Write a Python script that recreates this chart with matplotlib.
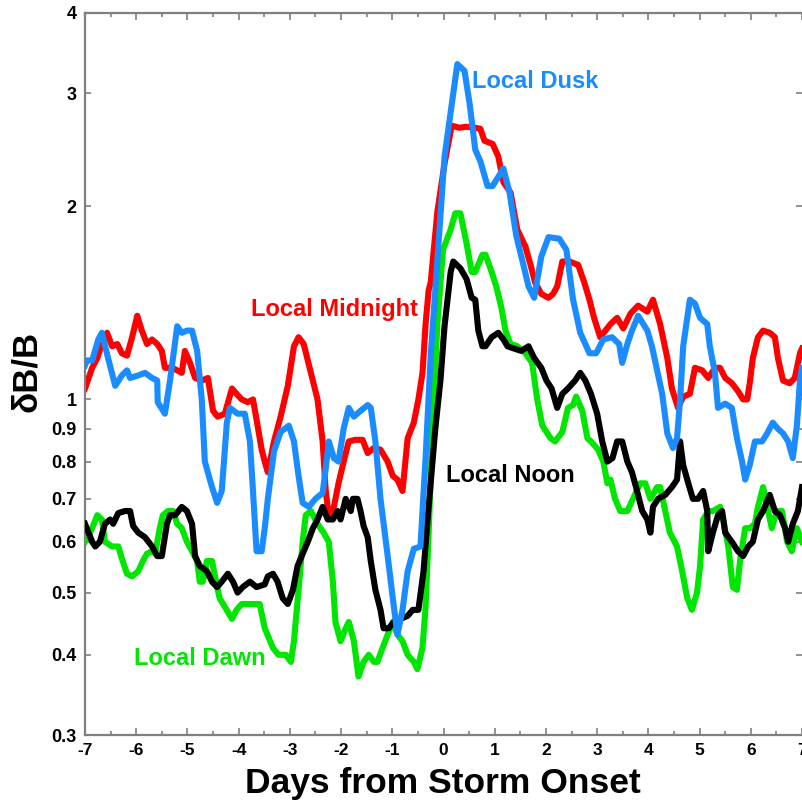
import matplotlib
matplotlib.use('Agg')
import matplotlib.pyplot as plt
from matplotlib.ticker import FixedLocator, FixedFormatter, NullLocator, MultipleLocator

plt.rcParams['font.family'] = ['Liberation Sans', 'DejaVu Sans']
plt.rcParams['font.weight'] = 'bold'

# ---------------- data ----------------
midnight_days = [-7.0, -6.86, -6.76, -6.67, -6.57, -6.47, -6.37, -6.28, -6.18, -6.08, -5.98, -5.89, -5.79,
                 -5.69, -5.59, -5.50, -5.44, -5.30, -5.20, -5.11, -5.05, -4.95, -4.85, -4.72, -4.60, -4.50,
                 -4.41, -4.27, -4.13, -4.04, -3.94, -3.82, -3.72, -3.65, -3.55, -3.49, -3.43, -3.31, -3.18,
                 -3.04, -2.92, -2.83, -2.73, -2.59, -2.46, -2.36, -2.30, -2.24, -2.14, -2.05, -1.95, -1.85,
                 -1.72, -1.58, -1.48, -1.36, -1.23, -1.09, -0.99, -0.90, -0.80, -0.70, -0.58, -0.49, -0.41,
                 -0.35, -0.29, -0.25, -0.12, 0.02, 0.16, 0.31, 0.45, 0.62, 0.72, 0.80, 0.96, 1.07, 1.17,
                 1.31, 1.44, 1.60, 1.70, 1.79, 1.91, 2.05, 2.14, 2.22, 2.32, 2.46, 2.63, 2.75, 2.85, 2.94,
                 3.06, 3.16, 3.26, 3.39, 3.51, 3.65, 3.80, 3.98, 4.09, 4.23, 4.37, 4.46, 4.58, 4.68, 4.81,
                 4.91, 5.05, 5.17, 5.30, 5.40, 5.50, 5.63, 5.75, 5.85, 5.93, 5.98, 6.04, 6.14, 6.24, 6.37,
                 6.47, 6.53, 6.63, 6.76, 6.86, 6.96, 7.0]
midnight_vals = [1.04, 1.12, 1.16, 1.22, 1.27, 1.21, 1.22, 1.18, 1.17, 1.25, 1.35, 1.28, 1.22,
                 1.24, 1.22, 1.19, 1.12, 1.12, 1.11, 1.10, 1.19, 1.14, 1.08, 1.07, 1.08, 0.96,
                 0.94, 0.95, 1.04, 1.02, 1.00, 0.99, 1.00, 0.93, 0.835, 0.80, 0.77, 0.86, 0.94,
                 1.05, 1.21, 1.25, 1.22, 1.10, 1.00, 0.86, 0.72, 0.66, 0.68, 0.74, 0.80, 0.86,
                 0.865, 0.865, 0.825, 0.84, 0.835, 0.80, 0.76, 0.75, 0.72, 0.87, 0.92, 1.00, 1.10,
                 1.31, 1.48, 1.52, 1.96, 2.33, 2.67, 2.65, 2.66, 2.65, 2.64, 2.53, 2.50, 2.39, 2.18,
                 2.10, 1.84, 1.73, 1.62, 1.52, 1.46, 1.44, 1.46, 1.50, 1.64, 1.64, 1.62, 1.52, 1.43, 1.34,
                 1.25, 1.28, 1.31, 1.34, 1.29, 1.36, 1.40, 1.37, 1.43, 1.31, 1.16, 1.04, 0.97, 1.01, 1.02,
                 1.12, 1.11, 1.08, 1.12, 1.12, 1.08, 1.06, 1.03, 1.00, 1.00, 1.06, 1.16, 1.25, 1.28, 1.27,
                 1.25, 1.16, 1.07, 1.06, 1.08, 1.18, 1.20]

dusk_days = [-7.0, -6.96, -6.86, -6.74, -6.67, -6.55, -6.41, -6.28, -6.18, -6.12, -5.96, -5.83, -5.69,
             -5.59, -5.58, -5.44, -5.34, -5.20, -5.11, -5.01, -4.91, -4.81, -4.72, -4.66, -4.52, -4.42,
             -4.33, -4.23, -4.17, -4.02, -3.88, -3.78, -3.72, -3.65, -3.55, -3.49, -3.43, -3.31, -3.18,
             -3.02, -2.92, -2.83, -2.75, -2.63, -2.50, -2.36, -2.30, -2.24, -2.14, -2.05, -1.95, -1.85,
             -1.75, -1.62, -1.48, -1.42, -1.33, -1.23, -1.09, -0.99, -0.90, -0.80, -0.70, -0.58, -0.45,
             -0.35, -0.25, -0.16, 0.02, 0.27, 0.41, 0.51, 0.62, 0.72, 0.86, 0.96, 1.17, 1.29, 1.42,
             1.56, 1.66, 1.77, 1.91, 2.05, 2.26, 2.40, 2.53, 2.67, 2.85, 2.98, 3.12, 3.29, 3.43, 3.49,
             3.59, 3.68, 3.80, 3.98, 4.07, 4.17, 4.27, 4.37, 4.48, 4.56, 4.62, 4.68, 4.81, 4.91, 5.01,
             5.15, 5.20, 5.30, 5.36, 5.50, 5.63, 5.73, 5.83, 5.89, 5.98, 6.08, 6.22, 6.32, 6.43, 6.53,
             6.63, 6.73, 6.82, 6.90, 6.96, 7.0]
dusk_vals = [1.13, 1.15, 1.15, 1.24, 1.27, 1.16, 1.05, 1.09, 1.11, 1.08, 1.09, 1.10, 1.08,
             1.07, 0.99, 0.95, 1.07, 1.30, 1.27, 1.28, 1.28, 1.19, 1.00, 0.80, 0.73, 0.69,
             0.72, 0.92, 0.97, 0.95, 0.95, 0.86, 0.72, 0.58, 0.58, 0.63, 0.70, 0.83, 0.89,
             0.91, 0.86, 0.76, 0.69, 0.68, 0.70, 0.715, 0.78, 0.86, 0.81, 0.80, 0.90, 0.97,
             0.94, 0.96, 0.98, 0.97, 0.86, 0.70, 0.57, 0.49, 0.43, 0.47, 0.54, 0.585, 0.59,
             0.81, 1.17, 1.48, 2.39, 3.33, 3.25, 2.89, 2.45, 2.35, 2.15, 2.15, 2.29, 2.10, 1.80,
             1.62, 1.50, 1.44, 1.67, 1.79, 1.78, 1.71, 1.43, 1.27, 1.18, 1.18, 1.24, 1.25, 1.22, 1.14,
             1.22, 1.28, 1.35, 1.28, 1.21, 1.11, 1.02, 0.885, 0.84, 0.87, 1.00, 1.21, 1.43, 1.41, 1.34,
             1.31, 1.21, 1.10, 0.97, 0.985, 0.97, 0.87, 0.80, 0.75, 0.79, 0.86, 0.86, 0.885, 0.92, 0.90,
             0.885, 0.86, 0.81, 0.91, 1.07, 1.12]

dawn_days = [-7.0, -6.86, -6.76, -6.67, -6.61, -6.47, -6.35, -6.28, -6.18, -6.08, -5.96, -5.87, -5.79,
             -5.69, -5.63, -5.54, -5.48, -5.38, -5.28, -5.20, -5.11, -5.01, -4.91, -4.81, -4.76, -4.70,
             -4.62, -4.52, -4.42, -4.37, -4.27, -4.13, -4.04, -3.94, -3.82, -3.68, -3.59, -3.49, -3.33,
             -3.22, -3.08, -2.98, -2.92, -2.83, -2.75, -2.69, -2.59, -2.46, -2.34, -2.24, -2.16, -2.11,
             -2.01, -1.91, -1.85, -1.75, -1.66, -1.56, -1.46, -1.36, -1.29, -1.19, -1.09, -0.99, -0.90,
             -0.80, -0.70, -0.58, -0.51, -0.41, -0.35, -0.29, -0.21, -0.12, -0.01, 0.14, 0.23, 0.33,
             0.45, 0.55, 0.62, 0.76, 0.82, 0.94, 1.03, 1.13, 1.21, 1.31, 1.44, 1.60, 1.73, 1.83, 1.93,
             2.09, 2.18, 2.32, 2.43, 2.53, 2.59, 2.71, 2.81, 2.88, 3.02, 3.12, 3.20, 3.26, 3.35, 3.45,
             3.59, 3.70, 3.84, 3.94, 4.04, 4.17, 4.23, 4.33, 4.42, 4.56, 4.66, 4.76, 4.85, 4.95, 5.01,
             5.07, 5.17, 5.26, 5.40, 5.46, 5.56, 5.65, 5.73, 5.79, 5.89, 5.98, 6.08, 6.14, 6.24, 6.32,
             6.41, 6.51, 6.61, 6.71, 6.80, 6.90, 7.0]
dawn_vals = [0.60, 0.63, 0.66, 0.65, 0.60, 0.59, 0.59, 0.565, 0.535, 0.53, 0.54, 0.56, 0.575,
             0.58, 0.575, 0.63, 0.66, 0.67, 0.67, 0.64, 0.63, 0.60, 0.58, 0.56, 0.52, 0.52,
             0.56, 0.56, 0.51, 0.49, 0.475, 0.455, 0.47, 0.48, 0.48, 0.48, 0.48, 0.44, 0.41,
             0.40, 0.40, 0.39, 0.42, 0.505, 0.60, 0.66, 0.67, 0.64, 0.62, 0.60, 0.52, 0.45,
             0.42, 0.44, 0.45, 0.42, 0.37, 0.39, 0.40, 0.39, 0.39, 0.41, 0.43, 0.45, 0.43,
             0.42, 0.40, 0.39, 0.38, 0.41, 0.475, 0.62, 0.92, 1.31, 1.71, 1.84, 1.95, 1.95,
             1.75, 1.58, 1.58, 1.68, 1.68, 1.58, 1.50, 1.39, 1.28, 1.22, 1.21, 1.18, 1.14, 1.00, 0.91,
             0.87, 0.86, 0.89, 0.97, 0.98, 1.01, 0.96, 0.87, 0.86, 0.835, 0.80, 0.74, 0.75, 0.70, 0.67,
             0.67, 0.70, 0.74, 0.74, 0.70, 0.73, 0.73, 0.67, 0.62, 0.59, 0.54, 0.49, 0.47, 0.50, 0.55,
             0.65, 0.67, 0.67, 0.68, 0.65, 0.59, 0.51, 0.505, 0.56, 0.63, 0.63, 0.64, 0.68, 0.73, 0.68,
             0.63, 0.67, 0.67, 0.60, 0.58, 0.63, 0.60]

noon_days = [-7.0, -6.86, -6.80, -6.71, -6.61, -6.51, -6.45, -6.35, -6.22, -6.12, -6.06, -5.96, -5.83,
             -5.69, -5.59, -5.50, -5.40, -5.34, -5.24, -5.11, -5.01, -4.91, -4.85, -4.76, -4.62, -4.52,
             -4.42, -4.33, -4.21, -4.11, -4.02, -3.92, -3.78, -3.65, -3.49, -3.43, -3.33, -3.24, -3.14,
             -3.04, -2.94, -2.85, -2.75, -2.65, -2.55, -2.46, -2.36, -2.26, -2.16, -2.07, -2.01, -1.91,
             -1.81, -1.77, -1.68, -1.62, -1.56, -1.48, -1.42, -1.33, -1.23, -1.17, -1.07, -0.97, -0.84,
             -0.70, -0.60, -0.49, -0.39, -0.29, -0.16, -0.06, 0.02, 0.14, 0.19, 0.33, 0.45, 0.55, 0.62,
             0.68, 0.76, 0.82, 0.94, 1.07, 1.17, 1.25, 1.38, 1.52, 1.66, 1.77, 1.91, 2.01, 2.11, 2.22,
             2.32, 2.43, 2.57, 2.67, 2.77, 2.88, 3.00, 3.10, 3.20, 3.30, 3.39, 3.49, 3.59, 3.68, 3.78,
             3.88, 3.98, 4.04, 4.09, 4.19, 4.33, 4.46, 4.56, 4.62, 4.68, 4.78, 4.87, 4.97, 5.07, 5.15,
             5.17, 5.26, 5.36, 5.44, 5.50, 5.63, 5.75, 5.85, 5.95, 6.04, 6.14, 6.24, 6.37, 6.47, 6.57,
             6.67, 6.73, 6.82, 6.92, 7.0]
noon_vals = [0.64, 0.60, 0.59, 0.60, 0.64, 0.65, 0.64, 0.665, 0.67, 0.67, 0.635, 0.62, 0.61,
             0.59, 0.57, 0.57, 0.64, 0.66, 0.66, 0.68, 0.67, 0.64, 0.57, 0.55, 0.54, 0.52,
             0.51, 0.52, 0.535, 0.52, 0.50, 0.51, 0.52, 0.51, 0.515, 0.53, 0.535, 0.52, 0.49,
             0.48, 0.505, 0.55, 0.575, 0.60, 0.63, 0.65, 0.68, 0.65, 0.65, 0.67, 0.65, 0.70,
             0.67, 0.70, 0.70, 0.67, 0.635, 0.61, 0.56, 0.505, 0.47, 0.44, 0.44, 0.45, 0.455,
             0.46, 0.47, 0.47, 0.54, 0.68, 0.90, 1.07, 1.30, 1.58, 1.64, 1.60, 1.54, 1.44, 1.43,
             1.28, 1.21, 1.21, 1.25, 1.27, 1.24, 1.21, 1.20, 1.19, 1.21, 1.16, 1.12, 1.07, 1.04, 0.97,
             1.02, 1.04, 1.07, 1.10, 1.07, 1.02, 0.95, 0.86, 0.80, 0.81, 0.86, 0.86, 0.80, 0.77, 0.72,
             0.67, 0.65, 0.62, 0.68, 0.70, 0.71, 0.73, 0.75, 0.86, 0.79, 0.74, 0.70, 0.70, 0.72, 0.67,
             0.58, 0.62, 0.66, 0.67, 0.62, 0.60, 0.58, 0.57, 0.59, 0.60, 0.65, 0.67, 0.71, 0.67, 0.66,
             0.63, 0.60, 0.64, 0.67, 0.73]

ytick_vals = [0.3, 0.4, 0.5, 0.6, 0.7, 0.8, 0.9, 1, 2, 3, 4]
ytick_labels = ['0.3', '0.4', '0.5', '0.6', '0.7', '0.8', '0.9', '1', '2', '3', '4']
xtick_vals = [-7, -6, -5, -4, -3, -2, -1, 0, 1, 2, 3, 4, 5, 6, 7]

series_labels = ['Local Midnight', 'Local Dusk', 'Local Noon', 'Local Dawn']
c_red, c_blue, c_green, c_black = '#ff0000', '#1a8cff', '#00e600', '#000000'

# ---------------- figure ----------------
fig = plt.figure(figsize=(8.02, 8.0), dpi=100)
ax = fig.add_axes([85 / 802, 65 / 800, 717 / 802, 722 / 800])

lw = 4.4
ax.plot(midnight_days, midnight_vals, color=c_red, lw=lw, zorder=2, solid_joinstyle='round')
ax.plot(dawn_days, dawn_vals, color=c_green, lw=lw, zorder=3, solid_joinstyle='round')
ax.plot(noon_days, noon_vals, color=c_black, lw=lw, zorder=4, solid_joinstyle='round')
ax.plot(dusk_days, dusk_vals, color=c_blue, lw=lw, zorder=5, solid_joinstyle='round')

ax.set_yscale('log')
ax.set_xlim(-7, 7)
ax.set_ylim(0.3, 4)
ax.yaxis.set_major_locator(FixedLocator(ytick_vals))
ax.yaxis.set_major_formatter(FixedFormatter(ytick_labels))
ax.yaxis.set_minor_locator(NullLocator())
ax.xaxis.set_major_locator(FixedLocator(xtick_vals))
ax.xaxis.set_major_formatter(FixedFormatter([str(v) for v in xtick_vals]))
ax.xaxis.set_minor_locator(MultipleLocator(0.5))

spine_c = '#7f7f7f'
for side in ['left', 'bottom', 'top']:
    ax.spines[side].set_color(spine_c)
    ax.spines[side].set_linewidth(1.6)
ax.spines['right'].set_visible(False)

ax.tick_params(axis='both', which='both', direction='in', top=True, right=True,
               color=spine_c, width=1.2)
ax.tick_params(axis='x', which='major', length=5, labelsize=12.5, pad=6)
ax.tick_params(axis='x', which='minor', length=3)
ax.tick_params(axis='y', which='major', length=4, labelsize=13, pad=6)
for lbl in ax.get_xticklabels() + ax.get_yticklabels():
    lbl.set_fontweight('bold')

# series labels
fs = 17
ax.text(-3.76, 1.349, series_labels[0], color=c_red, fontsize=fs, fontweight='bold', ha='left', va='baseline')
ax.text(0.565, 3.06, series_labels[1], color=c_blue, fontsize=fs, fontweight='bold', ha='left', va='baseline')
ax.text(0.04, 0.744, series_labels[2], color=c_black, fontsize=fs, fontweight='bold', ha='left', va='baseline')
ax.text(-6.04, 0.386, series_labels[3], color=c_green, fontsize=fs, fontweight='bold', ha='left', va='baseline')

fig.text(443 / 802, 7 / 800, 'Days from Storm Onset', fontsize=25.5, fontweight='bold',
         ha='center', va='baseline')
fig.text(27 / 802, (800 - 371) / 800, 'δB/B', fontsize=25, fontweight='bold',
         rotation=90, ha='center', va='center')

fig.savefig('out.png', dpi=100)
